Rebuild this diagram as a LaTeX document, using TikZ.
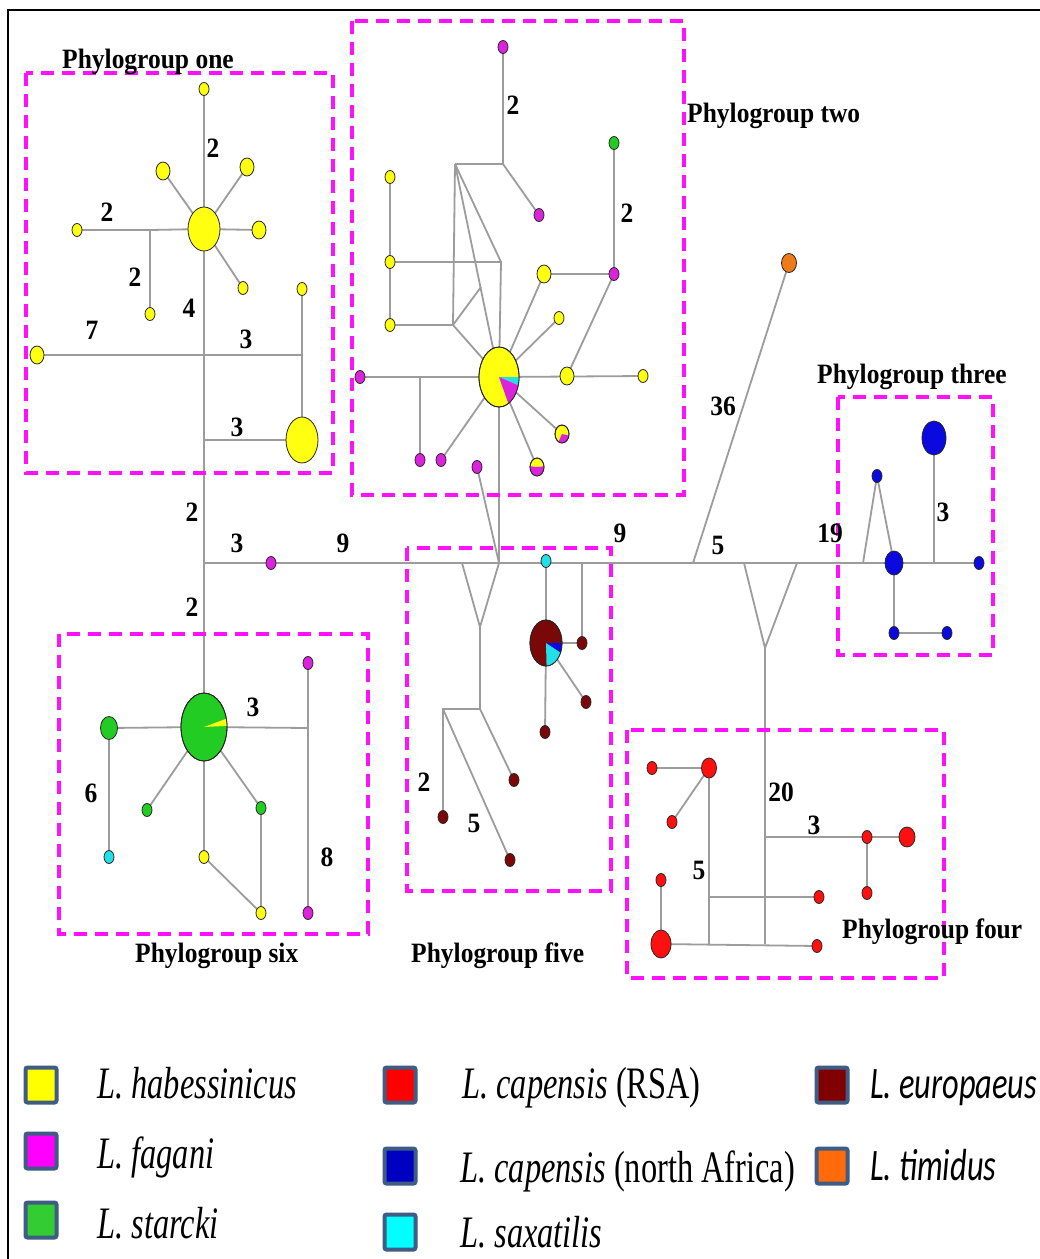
\documentclass[tikz,border=0pt]{standalone}
\usepackage{fontspec}
\setmainfont{Liberation Serif}
\newfontfamily\legsans{Carlito}
\usetikzlibrary{shapes.geometric,backgrounds}

% haplotype fills
\definecolor{hyel}{HTML}{FFFF10}
\definecolor{hmag}{HTML}{DD22DD}
\definecolor{hgrn}{HTML}{22CC22}
\definecolor{hcyn}{HTML}{22E0E8}
\definecolor{hmar}{HTML}{7A0808}
\definecolor{hred}{HTML}{FF1010}
\definecolor{hblu}{HTML}{0A0AE0}
\definecolor{horg}{HTML}{EE7A1A}
% lines and frames
\definecolor{edgegray}{HTML}{9C9C9C}
\definecolor{boxmag}{HTML}{FF11FF}
\definecolor{legbd}{HTML}{3E5C84}
% legend fills
\definecolor{lyel}{HTML}{FFFF00}
\definecolor{lmag}{HTML}{FF00FF}
\definecolor{lgrn}{HTML}{33CC33}
\definecolor{lred}{HTML}{FF0000}
\definecolor{lblu}{HTML}{0000C0}
\definecolor{lcyn}{HTML}{00FFFF}
\definecolor{lmar}{HTML}{800000}
\definecolor{lorg}{HTML}{FF6A0A}

\newcommand\nx[1]{\scalebox{0.91}[1]{#1}}
\newcommand\lx[1]{\scalebox{0.72}[1]{#1}}
% pie slice inside a haplotype: node, x radius, y radius, from, to, colour
\newcommand\pieslice[6]{%
  \fill[#6] ([shift={(#4:#2 and #3)}]#1.center) arc[start angle=#4, end angle=#5, x radius=#2, y radius=#3] -- (#1.center) -- cycle;}
\newcommand\pierim[3]{\draw[black!85, line width=0.8pt] (#1.center) ellipse [x radius=#2, y radius=#3];}

\begin{document}
\begin{tikzpicture}[x=1pt,y=-1pt,
  hap/.style={ellipse, draw=black!85, line width=0.8pt, inner sep=0pt, outer sep=0pt},
  hs/.style={hap, minimum width=10pt, minimum height=13pt},
  hm/.style={hap, minimum width=14pt, minimum height=18pt},
  edge/.style={draw=edgegray, line width=1.8pt},
  grp/.style={draw=boxmag, line width=3.2pt, dash pattern=on 13pt off 8pt},
  num/.style={inner sep=0pt, font=\fontsize{28}{30}\selectfont\bfseries},
  grplab/.style={inner sep=0pt, anchor=base west, font=\fontsize{28}{30}\selectfont\bfseries},
  legbox/.style={draw=legbd, line width=4pt, rounded corners=2pt, minimum width=31pt, minimum height=35pt, inner sep=0pt},
  legtxt/.style={inner sep=0pt, anchor=base west, font=\fontsize{45}{50}\selectfont},
]
\useasboundingbox (0,0) rectangle (1040,1259);

% outer frame
\draw[line width=2.5pt] (8,1259) -- (8,10) -- (1040,10);

% phylogroup boxes
\draw[grp] (26,73) rectangle (333,473);
\draw[grp] (352,21) rectangle (684,495);
\draw[grp] (838,397) rectangle (993,655);
\draw[grp] (627,730) rectangle (944,978);
\draw[grp] (407,548) rectangle (611,891);
\draw[grp] (59,634) rectangle (368,934);

% ---------- phylogroup one ----------
\node[hs, fill=hyel] (p1a) at (204,89) {};
\node[hap, fill=hyel, minimum width=32pt, minimum height=44pt] (p1c) at (204,229) {};
\node[hm, fill=hyel] (p1ul) at (163,171) {};
\node[hm, fill=hyel] (p1ur) at (247,167) {};
\node[hm, fill=hyel] (p1r) at (259,230) {};
\node[hs, fill=hyel] (p1lr) at (243,288) {};
\node[hs, fill=hyel] (p1l) at (77,230) {};
\node[hs, fill=hyel] (p1b) at (150,314) {};
\node[hm, fill=hyel] (p1ll) at (37,355) {};
\node[hs, fill=hyel] (p1rt) at (302,289) {};
\node[hap, fill=hyel, minimum width=32pt, minimum height=46pt] (p1big) at (302,440) {};
\coordinate (j1a) at (150,230);
\coordinate (j1b) at (204,355);
\coordinate (j1c) at (302,355);
\coordinate (j1d) at (204,440);

% ---------- phylogroup two ----------
\node[hs, fill=hmag] (p2top) at (503,47) {};
\node[hs, fill=hmag] (p2m1) at (539,215) {};
\node[hs, fill=hyel] (p2y1) at (390,177) {};
\node[hs, fill=hyel] (p2y2) at (390,262) {};
\node[hs, fill=hyel] (p2y3) at (390,325) {};
\node[hap, fill=hyel, minimum width=40pt, minimum height=60pt] (p2c) at (499,377) {};
\node[hs, fill=hgrn] (p2g) at (614,143) {};
\node[hs, fill=hmag] (p2mm) at (614,274) {};
\node[hm, fill=hyel] (p2ya) at (544,274) {};
\node[hs, fill=hyel] (p2yb) at (559,318) {};
\node[hm, fill=hyel] (p2yc) at (567,376) {};
\node[hs, fill=hyel] (p2yd) at (643,376) {};
\node[hm, fill=hyel] (p2e) at (562,434) {};
\node[hm, fill=hyel] (p2f) at (537,467) {};
\node[hs, fill=hmag] (p2ml) at (360,377) {};
\node[hs, fill=hmag] (p2m2) at (420,460) {};
\node[hs, fill=hmag] (p2m3) at (441,460) {};
\node[hs, fill=hmag] (p2m4) at (477,467) {};
\coordinate (j2a) at (503,164);
\coordinate (j2b) at (455,164);
\coordinate (j2c) at (501,262);
\coordinate (j2d) at (453,325);
\coordinate (j2e) at (481,287);
\coordinate (j2f) at (420,377);
\pieslice{p2c}{20}{30}{0}{16}{hcyn}
\pieslice{p2c}{20}{30}{16}{62}{hmag}
\pierim{p2c}{20}{30}
\pieslice{p2e}{7}{9}{10}{120}{hmag}
\pierim{p2e}{7}{9}
\pieslice{p2f}{7}{9}{-5}{185}{hmag}
\pierim{p2f}{7}{9}

% ---------- main backbone ----------
\coordinate (jm0) at (204,563);
\node[hs, fill=hmag] (pm1) at (271,563) {};
\coordinate (jm4) at (462,563);
\coordinate (jm2) at (499,563);
\coordinate (jy1) at (480,627);
\coordinate (jm5) at (582,563);
\coordinate (jm6) at (693,563);
\coordinate (jm7) at (744,563);
\coordinate (jm8) at (797,563);
\coordinate (jy2) at (765,648);
\node[hap, fill=horg, minimum width=15pt, minimum height=19pt] (p7) at (789,263) {};

% ---------- phylogroup five ----------
\node[hs, fill=hcyn] (p5cy) at (546,561) {};
\node[hap, fill=hmar, minimum width=32pt, minimum height=46pt] (p5big) at (546,643) {};
\node[hs, fill=hmar] (p5r) at (582,643) {};
\node[hs, fill=hmar] (p5d) at (586,702) {};
\node[hs, fill=hmar] (p5e) at (545,732) {};
\node[hs, fill=hmar] (p5a) at (443,817) {};
\node[hs, fill=hmar] (p5b) at (510,860) {};
\node[hs, fill=hmar] (p5c) at (514,780) {};
\coordinate (j5a) at (480,709);
\coordinate (j5b) at (443,709);
\pieslice{p5big}{16}{23}{0}{25}{hblu}
\pieslice{p5big}{16}{23}{25}{88}{hcyn}
\pierim{p5big}{16}{23}

% ---------- phylogroup three ----------
\node[hap, fill=hblu, minimum width=24pt, minimum height=34pt] (p3big) at (934,438) {};
\node[hs, fill=hblu] (p3s) at (877,476) {};
\node[hap, fill=hblu, minimum width=18pt, minimum height=24pt] (p3m) at (894,563) {};
\node[hs, fill=hblu] (p3r) at (979,563) {};
\node[hs, fill=hblu] (p3b1) at (894,633) {};
\node[hs, fill=hblu] (p3b2) at (947,633) {};
\coordinate (j3a) at (863,563);
\coordinate (j3b) at (934,563);

% ---------- phylogroup four ----------
\node[hs, fill=hred] (p4a) at (652,768) {};
\node[hap, fill=hred, minimum width=15pt, minimum height=20pt] (p4b) at (709,768) {};
\node[hs, fill=hred] (p4c) at (672,822) {};
\node[hs, fill=hred] (p4t) at (661,880) {};
\node[hap, fill=hred, minimum width=20pt, minimum height=28pt] (p4big) at (661,944) {};
\node[hs, fill=hred] (p4r) at (817,946) {};
\node[hs, fill=hred] (p4s) at (819,897) {};
\node[hs, fill=hred] (p4m) at (867,837) {};
\node[hap, fill=hred, minimum width=16pt, minimum height=20pt] (p4n) at (907,837) {};
\node[hs, fill=hred] (p4o) at (867,893) {};
\coordinate (j4a) at (765,944);
\coordinate (j4b) at (709,944);
\coordinate (j4c) at (709,897);
\coordinate (j4d) at (765,837);

% ---------- phylogroup six ----------
\node[hap, fill=hgrn, minimum width=46pt, minimum height=68pt] (p6c) at (204,727) {};
\node[hap, fill=hgrn, minimum width=17pt, minimum height=23pt] (p6l) at (109,728) {};
\node[hs, fill=hcyn] (p6cy) at (109,857) {};
\node[hs, fill=hgrn] (p6g1) at (147,810) {};
\node[hs, fill=hgrn] (p6g2) at (261,808) {};
\node[hs, fill=hyel] (p6y1) at (204,857) {};
\node[hs, fill=hyel] (p6y2) at (261,913) {};
\node[hs, fill=hmag] (p6mt) at (308,663) {};
\node[hs, fill=hmag] (p6mb) at (308,913) {};
\coordinate (j6a) at (308,728);
\pieslice{p6c}{23}{34}{-14}{-2}{hyel}
\pierim{p6c}{23}{34}

% ---------- connectors ----------
\begin{pgfonlayer}{background}
\fill[white] (0,0) rectangle (1040,1259);
% group one
\draw[edge] (p1a.center) -- (p6c.center);
\draw[edge] (p1c.center) -- (p1ul.center);
\draw[edge] (p1c.center) -- (p1ur.center);
\draw[edge] (p1c.center) -- (p1r.center);
\draw[edge] (p1c.center) -- (p1lr.center);
\draw[edge] (p1c.center) -- (j1a) -- (p1l.center);
\draw[edge] (j1a) -- (p1b.center);
\draw[edge] (p1ll.center) -- (j1b) -- (j1c);
\draw[edge] (p1rt.center) -- (j1c) -- (p1big.center);
\draw[edge] (j1d) -- (p1big.center);
% group two
\draw[edge] (p2top.center) -- (j2a) -- (j2b);
\draw[edge] (j2a) -- (p2m1.center);
\draw[edge] (j2b) -- (j2d);
\draw[edge] (j2b) -- (j2c);
\draw[edge] (j2b) -- (p2c.center);
\draw[edge] (p2y1.center) -- (p2y3.center);
\draw[edge] (p2y2.center) -- (j2c) -- (p2c.center);
\draw[edge] (p2y3.center) -- (j2d) -- (j2e);
\draw[edge] (j2d) -- (p2c.center);
\draw[edge] (p2g.center) -- (p2mm.center) -- (p2ya.center) -- (p2c.center);
\draw[edge] (p2mm.center) -- (p2yc.center);
\draw[edge] (p2c.center) -- (p2yb.center);
\draw[edge] (p2c.center) -- (p2yd.center);
\draw[edge] (p2c.center) -- (p2e.center);
\draw[edge] (p2c.center) -- (p2f.center);
\draw[edge] (p2ml.center) -- (p2c.center);
\draw[edge] (j2f) -- (p2m2.center);
\draw[edge] (p2c.center) -- (p2m3.center);
\draw[edge] (p2c.center) -- (jm2);
\draw[edge] (p2m4.center) -- (jm2);
% backbone
\draw[edge] (jm0) -- (p3r.center);
\draw[edge] (jm4) -- (jy1) -- (jm2);
\draw[edge] (jy1) -- (j5a) -- (j5b) -- (p5a.center);
\draw[edge] (j5b) -- (p5b.center);
\draw[edge] (j5a) -- (p5c.center);
\draw[edge] (jm6) -- (p7.center);
\draw[edge] (jm7) -- (jy2) -- (jm8);
\draw[edge] (jy2) -- (j4a);
% group five
\draw[edge] (p5cy.center) -- (p5big.center);
\draw[edge] (jm5) -- (p5r.center) -- (p5big.center);
\draw[edge] (p5big.center) -- (p5d.center);
\draw[edge] (p5big.center) -- (p5e.center);
% group three
\draw[edge] (j3a) -- (p3s.center) -- (p3m.center);
\draw[edge] (p3big.center) -- (j3b);
\draw[edge] (p3m.center) -- (p3b1.center) -- (p3b2.center);
% group four
\draw[edge] (p4a.center) -- (p4b.center) -- (p4c.center);
\draw[edge] (p4b.center) -- (j4b);
\draw[edge] (p4t.center) -- (p4big.center) -- (p4r.center);
\draw[edge] (j4c) -- (p4s.center);
\draw[edge] (j4d) -- (p4m.center) -- (p4n.center);
\draw[edge] (p4m.center) -- (p4o.center);
% group six
\draw[edge] (p6l.center) -- (p6c.center) -- (j6a);
\draw[edge] (p6l.center) -- (p6cy.center);
\draw[edge] (p6c.center) -- (p6g1.center);
\draw[edge] (p6c.center) -- (p6g2.center) -- (p6y2.center);
\draw[edge] (p6c.center) -- (p6y1.center) -- (p6y2.center);
\draw[edge] (p6mt.center) -- (p6mb.center);
\end{pgfonlayer}

% ---------- mutation counts ----------
\node[num] (n1) at (213,148) {\nx{2}};
\node[num] (n2) at (107,212) {\nx{2}};
\node[num] (n3) at (135,277) {\nx{2}};
\node[num] (n4) at (189,308) {\nx{4}};
\node[num] (n5) at (92,330) {\nx{7}};
\node[num] (n6) at (246,339) {\nx{3}};
\node[num] (n7) at (237,427) {\nx{3}};
\node[num] (n8) at (192,512) {\nx{2}};
\node[num] (n9) at (237,543) {\nx{3}};
\node[num] (n10) at (343,543) {\nx{9}};
\node[num] (n11) at (192,607) {\nx{2}};
\node[num] (n12) at (620,533) {\nx{9}};
\node[num] (n13) at (723,406) {\nx{36}};
\node[num] (n14) at (718,545) {\nx{5}};
\node[num] (n15) at (830,533) {\nx{19}};
\node[num] (n16) at (513,105) {\nx{2}};
\node[num] (n17) at (627,213) {\nx{2}};
\node[num] (n18) at (943,512) {\nx{3}};
\node[num] (n19) at (253,707) {\nx{3}};
\node[num] (n20) at (91,793) {\nx{6}};
\node[num] (n21) at (327,857) {\nx{8}};
\node[num] (n22) at (424,782) {\nx{2}};
\node[num] (n23) at (474,823) {\nx{5}};
\node[num] (n24) at (781,792) {\nx{20}};
\node[num] (n25) at (814,825) {\nx{3}};
\node[num] (n26) at (699,870) {\nx{5}};

% ---------- group names ----------
\node[grplab] (g1) at (62,68) {\nx{Phylogroup one}};
\node[grplab] (g2) at (687,122) {\nx{Phylogroup two}};
\node[grplab] (g3) at (817,383) {\nx{Phylogroup three}};
\node[grplab] (g4) at (842,938) {\nx{Phylogroup four}};
\node[grplab] (g5) at (411,962) {\nx{Phylogroup five}};
\node[grplab] (g6) at (135,962) {\nx{Phylogroup six}};

% ---------- legend ----------
\node[legbox, fill=lyel] (k1) at (41,1085) {};
\node[legbox, fill=lmag] (k2) at (41,1151) {};
\node[legbox, fill=lgrn] (k3) at (41,1220) {};
\node[legbox, fill=lred] (k4) at (400,1085) {};
\node[legbox, fill=lblu] (k5) at (400,1166) {};
\node[legbox, fill=lcyn] (k6) at (400,1232) {};
\node[legbox, fill=lmar] (k7) at (832,1085) {};
\node[legbox, fill=lorg] (k8) at (832,1166) {};
\node[legtxt] (t1) at (97,1098) {\lx{\itshape L. habessinicus}};
\node[legtxt] (t2) at (97,1168) {\lx{\itshape L. fagani}};
\node[legtxt] (t3) at (97,1238) {\lx{\itshape L. starcki}};
\node[legtxt] (t4) at (462,1098) {\lx{\textit{L. capensis} (RSA)}};
\node[legtxt] (t5) at (460,1182) {\lx{\textit{L. capensis} (north Africa)}};
\node[legtxt] (t6) at (460,1247) {\lx{\itshape L. saxatilis}};
\node[legtxt] (t7) at (870,1098) {\lx{\legsans\itshape L. europaeus}};
\node[legtxt] (t8) at (870,1180) {\lx{\legsans\itshape L. timidus}};
\end{tikzpicture}
\end{document}
